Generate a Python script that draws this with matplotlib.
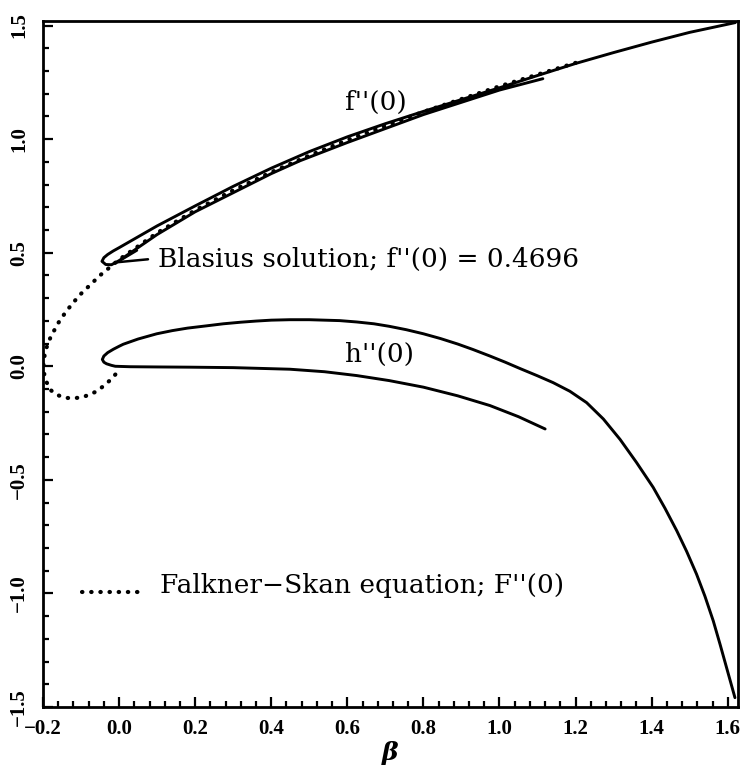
import numpy as np
import matplotlib
matplotlib.use("Agg")
import matplotlib.pyplot as plt
from matplotlib.ticker import MultipleLocator

# ---------------- data ----------------
# Falkner-Skan F''(0): attached (upper) branch and reverse-flow (lower) branch
fs_upper_beta = [1.2, 1.0, 0.8, 0.6, 0.5, 0.4, 0.3, 0.2, 0.1, 0.0, -0.05, -0.10,
                 -0.12, -0.14, -0.16, -0.18, -0.19, -0.195, -0.198, -0.1988]
fs_upper = [1.3357, 1.2326, 1.1203, 0.9958, 0.9277, 0.8542, 0.7748, 0.6869, 0.5870,
            0.4696, 0.4003, 0.3193, 0.2814, 0.2395, 0.1903, 0.1286, 0.0855, 0.055,
            0.026, 0.0]
fs_lower_beta = [-0.198, -0.195, -0.19, -0.18, -0.16, -0.14, -0.12, -0.10, -0.08,
                 -0.06, -0.04, -0.02, -0.005]
fs_lower = [-0.024, -0.047, -0.072, -0.105, -0.128, -0.139, -0.141, -0.137, -0.127,
            -0.111, -0.086, -0.056, -0.027]

# f''(0) solid loop: lower branch (end -> nose), then upper branch (nose -> end)
f_lower_beta = [1.114, 1.0, 0.9, 0.8, 0.6, 0.476, 0.4, 0.2, 0.1, 0.0, -0.02, -0.035]
f_lower = [1.266, 1.216, 1.162, 1.108, 0.985, 0.905, 0.848, 0.680, 0.580, 0.465,
           0.447, 0.448]
f_upper_beta = [-0.045, -0.04, -0.03, -0.015, 0.0, 0.05, 0.1, 0.2, 0.3, 0.4, 0.5,
                0.6, 0.7, 0.8, 0.9, 1.0, 1.1, 1.2, 1.3, 1.4, 1.5, 1.62]
f_upper = [0.462, 0.478, 0.492, 0.508, 0.522, 0.570, 0.618, 0.706, 0.792, 0.872,
           0.945, 1.010, 1.068, 1.122, 1.174, 1.226, 1.280, 1.333, 1.381, 1.427,
           1.470, 1.513]

# h''(0) solid loop: lower branch (end -> nose), then upper branch (nose -> end)
h_lower_beta = [1.12, 1.05, 0.975, 0.89, 0.8, 0.71, 0.625, 0.54, 0.449, 0.3, 0.187,
                0.1, 0.029, -0.01, -0.02, -0.033, -0.04]
h_lower = [-0.276, -0.222, -0.173, -0.130, -0.092, -0.063, -0.041, -0.024, -0.013,
           -0.006, -0.004, -0.003, -0.002, 0.000, 0.004, 0.011, 0.018]
h_upper_beta = [-0.044, -0.04, -0.03, -0.015, 0.0, 0.011, 0.05, 0.099, 0.14, 0.18,
                0.23, 0.274, 0.32, 0.36, 0.40, 0.449, 0.50, 0.54, 0.58, 0.625, 0.67,
                0.71, 0.755, 0.80, 0.845, 0.89, 0.93, 0.975, 1.015, 1.054, 1.10,
                1.141, 1.185, 1.229, 1.273, 1.317, 1.36, 1.404, 1.435, 1.466, 1.492,
                1.518, 1.54, 1.562, 1.58, 1.597, 1.608, 1.619]
h_upper = [0.030, 0.045, 0.060, 0.075, 0.088, 0.097, 0.120, 0.143, 0.157, 0.168,
           0.178, 0.187, 0.194, 0.199, 0.203, 0.205, 0.205, 0.203, 0.201, 0.195,
           0.187, 0.176, 0.161, 0.143, 0.122, 0.098, 0.074, 0.045, 0.018, -0.010,
           -0.042, -0.072, -0.110, -0.160, -0.232, -0.322, -0.423, -0.533, -0.625,
           -0.724, -0.815, -0.915, -1.012, -1.121, -1.225, -1.327, -1.393, -1.459]

x_ticks = [-0.2, 0.0, 0.2, 0.4, 0.6, 0.8, 1.0, 1.2, 1.4, 1.6]
y_ticks = [-1.5, -1.0, -0.5, 0.0, 0.5, 1.0, 1.5]
blasius_value = 0.4696

# ---------------- figure ----------------
W, H = 745, 774
fig = plt.figure(figsize=(W / 100, H / 100), dpi=100)
ax = fig.add_axes([43 / W, 1 - 707 / H, (738 - 43) / W, (707 - 21) / H])

tick_font = ["Liberation Serif", "DejaVu Serif"]
text_font = ["DejaVu Serif"]
dots = (0, (0.1, 2.1))

fs_x = np.concatenate([fs_upper_beta, fs_lower_beta])
fs_y = np.concatenate([fs_upper, fs_lower])
ax.plot(fs_x, fs_y, color="black", lw=3.0, ls=dots, dash_capstyle="round")

f_x = np.concatenate([f_lower_beta, f_upper_beta])
f_y = np.concatenate([f_lower, f_upper])
ax.plot(f_x, f_y, color="black", lw=2.1, solid_joinstyle="round",
        solid_capstyle="round")

h_x = np.concatenate([h_lower_beta, h_upper_beta])
h_y = np.concatenate([h_lower, h_upper])
ax.plot(h_x, h_y, color="black", lw=2.1, solid_joinstyle="round",
        solid_capstyle="round")

ax.set_xlim(-0.2, 1.627)
ax.set_ylim(-1.5, 1.52)

ax.set_xticks(x_ticks)
ax.set_yticks(y_ticks)
ax.xaxis.set_minor_locator(MultipleLocator(0.04))
ax.yaxis.set_minor_locator(MultipleLocator(0.1))
ax.tick_params(which="both", direction="in", top=False, right=False, width=1.6,
               color="black")
ax.tick_params(which="major", length=7)
ax.tick_params(which="minor", length=4.2)
ax.tick_params(axis="x", which="major", pad=9)
ax.tick_params(axis="y", which="major", pad=10)
for s in ax.spines.values():
    s.set_linewidth(2.0)

def fmt(v):
    return f"{v:.1f}".replace("-", "\u2212")

ax.set_xticklabels([fmt(v) for v in x_ticks], fontfamily=tick_font,
                   fontweight="bold", fontsize=15)
ax.set_yticklabels([fmt(v) for v in y_ticks], fontfamily=tick_font,
                   fontweight="bold", fontsize=15, rotation=90, va="center")

ax.set_xlabel("\u03b2", fontfamily=["DejaVu Serif"], fontstyle="italic",
              fontweight="bold", fontsize=18, labelpad=1)

txt = dict(fontfamily=text_font, fontsize=19, color="black")
ax.text(0.1025, 0.436, f"Blasius solution; f''(0) = {blasius_value}",
        ha="left", va="baseline", **txt)
ax.text(0.594, 1.128, "f''(0)", ha="left", va="baseline", **txt)
ax.text(0.594, 0.018, "h''(0)", ha="left", va="baseline", **txt)
ax.text(0.108, -1.0, "Falkner\u2212Skan equation; F''(0)", ha="left",
        va="baseline", **txt)

# legend sample for the dotted curve
ax.plot([-0.097, 0.068], [-0.995, -0.995], color="black", lw=3.0, ls=dots,
        dash_capstyle="round")

# arrow marker pointing to the Blasius point
ax.annotate("", xy=(-0.005, 0.458), xytext=(0.076, 0.471),
            arrowprops=dict(arrowstyle="-", lw=1.8, color="black",
                            shrinkA=0, shrinkB=0))
ax.annotate("", xy=(-0.005, 0.458), xytext=(0.047, 0.51),
            arrowprops=dict(arrowstyle="-", lw=1.8, color="black",
                            shrinkA=0, shrinkB=0))

fig.savefig("out.png", dpi=100)
